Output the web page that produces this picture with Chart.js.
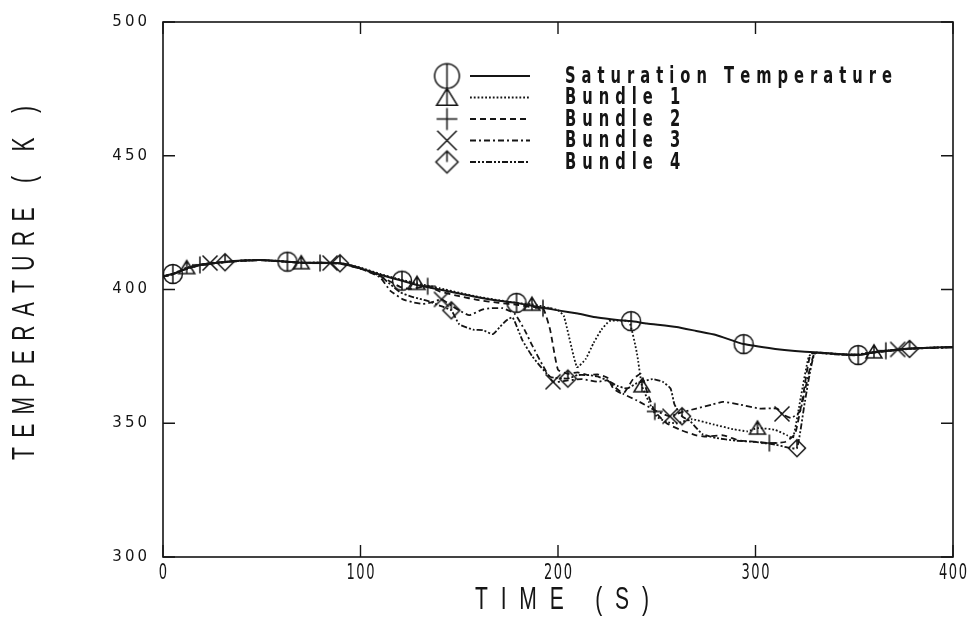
<!DOCTYPE html>
<html>
<head>
<meta charset="utf-8">
<script src="https://cdn.jsdelivr.net/npm/chart.js@4.4.1/dist/chart.umd.min.js"></script>
<style>
  html, body { margin: 0; padding: 0; background: #fff; }
  #c { display: block; }
</style>
</head>
<body>
<canvas id="c" width="973" height="622"></canvas>
<script>
'use strict';

// time (s) / temperature (K)
var SAT_T = [0,5,10,15,20,30,40,50,63,70,80,90,100,110,121,130,140,150,160,170,179,190,200,210,220,230,237,245,260,270,280,294,310,320,330,340,352,360,370,380,390,400];
var SAT_K = [405,405.8,407.3,408.6,409.4,410.2,410.8,411,410.4,410,410,409.8,408,405.5,403.3,401.5,400,398.5,397,395.8,395,393.5,392.2,391,389.5,388.6,388.2,387.3,386,384.5,383,379.6,377.8,377,376.5,376,375.5,376.6,377.4,378,378.3,378.5];
var SAT_MARKS = [5,63,121,179,237,294,352];

var B1_T = [0,5,12,20,30,40,50,60,70,80,90,100,110,120,128.6,135,140,150,160,170,180,186.8,195,200,203,209.6,214,218,222,226,230,236,240,242.5,246,250,255,260,268,278.5,288.6,296,301,310,316,319,323,327,330,340,350,360,370,380,390,400];
var B1_K = [404.8,405.9,408.2,409.4,410.2,410.8,411,410.6,410,410,409.8,408.2,405.8,403.8,402.3,401.3,400.5,398.8,397.2,396,394.9,394.5,393.2,392.3,390,371,374,380,385,388.2,388.4,388,376,364,358,352.5,350.5,350,351.5,349.6,347.8,347,348.2,347.5,345.5,344.5,360,375,376.4,376,375.6,376.7,377.4,378,378.3,378.5];
var B1_MARKS = [12,70,128.6,186.8,242.5,301,360];

var B2_T = [0,5,10,18.7,30,40,50,60,70,79.5,90,100,110,115,120,125,134,140,150,160,170,180,186,192.4,196,200,205,210,215,220,225,228,233,238,242,245,249,255,262,270,275,283.5,292,302,307,315,320,324,328,335,345,355,366,375,385,400];
var B2_K = [404.8,405.7,407.2,409.2,410.1,410.7,410.9,410.5,410,409.9,409.6,407.8,405,403,401,400.2,401.2,399.3,397.5,396,395,394.2,393.5,393,385,370,368.5,369,368,368.3,367,363,361,366.5,368.5,362,354.4,350,347.5,345.5,345,345.5,343.5,343,342.6,343,346,360,376,376.1,375.7,375.8,377.1,377.7,378.1,378.4];
var B2_MARKS = [18.7,79.5,134,192.4,249,307,366];

var B3_T = [0,5,10,15,23.8,30,40,50,60,70,84.6,90,100,110,115,121.5,126.6,131.6,136,141,146,150,155,162,166,172,178,183,187,192,197.5,205,212,220,225,228,233,240,250,256.7,262,270,278,283.5,292,302,311,313.4,318,322.5,326,330,340,350,360,372,385,400];
var B3_K = [404.8,405.7,407.2,408.5,409.9,410.2,410.8,411,410.5,410,409.9,409.7,407.8,404.5,399.6,396.3,395.2,394.6,395.2,396.3,394,392.2,390.4,392.6,393,393,391,385,379,372,365.5,366,366.5,365.5,366,364,361,358.5,354.5,352.6,354,355.5,357,358,357,355.5,355.5,353.5,352,354.4,365.5,376.2,375.9,375.5,376.5,377.6,378.1,378.4];
var B3_MARKS = [23.8,84.6,141,197.5,256.7,313.4,372];

var B4_T = [0,5,10,20,31.4,40,50,60,70,80,89.6,100,110,115,120,125,130,135,140,146,150,157,162,167,170.6,174,177,182,187,196,205,210,215,220,225,230,235,240,248,253,257,259,262.8,267,273,280,290,300,310,316,321,325,330,340,350,360,370,378,390,400];
var B4_K = [404.8,405.7,407.2,409.3,410.2,410.8,411,410.5,410,410,409.8,407.8,405,402,399,397.5,396.5,395.5,394,392.2,387,385,384.8,383.3,386,388.5,389.6,381,375,367.4,366.7,368,368,367.5,366,364,363,365,366.5,365.5,363,357,352.6,350.7,346,344.5,343.5,343,342,341,340.7,358,376,375.8,375.4,376.4,377.2,377.8,378.2,378.4];
var B4_MARKS = [31.4,89.6,146,205,262.8,321,378];

var X_TICKS = [0, 100, 200, 300, 400];
var Y_TICKS = [300, 350, 400, 450, 500];

var INK = '#151515';

// marker glyphs, drawn once on small canvases
function makeMarker(kind, k) {
	var s = Math.round(24 * k), m = s / 2;
	var c = document.createElement('canvas');
	c.width = c.height = s;
	var g = c.getContext('2d');
	g.strokeStyle = INK;
	g.lineWidth = 1.5;
	g.beginPath();
	if (kind === 'circle') {
		g.arc(m, m, 9.5 * k, 0, Math.PI * 2);
		g.moveTo(m, m - 9.5 * k); g.lineTo(m, m + 9.5 * k);
	} else if (kind === 'triangle') {
		g.moveTo(m, m - 7 * k); g.lineTo(m + 8 * k, m + 6 * k); g.lineTo(m - 8 * k, m + 6 * k); g.closePath();
		g.moveTo(m, m - 7 * k); g.lineTo(m, m + 6 * k);
	} else if (kind === 'plus') {
		g.moveTo(m - 8 * k, m); g.lineTo(m + 8 * k, m);
		g.moveTo(m, m - 8.5 * k); g.lineTo(m, m + 8.5 * k);
	} else if (kind === 'cross') {
		g.moveTo(m - 7.5 * k, m - 7.5 * k); g.lineTo(m + 7.5 * k, m + 7.5 * k);
		g.moveTo(m + 7.5 * k, m - 7.5 * k); g.lineTo(m - 7.5 * k, m + 7.5 * k);
	} else {
		g.moveTo(m, m - 8.5 * k); g.lineTo(m + 8.5 * k, m); g.lineTo(m, m + 8.5 * k); g.lineTo(m - 8.5 * k, m); g.closePath();
		g.moveTo(m, m - 8.5 * k); g.lineTo(m, m);
	}
	g.stroke();
	return c;
}

var SERIES = [
	{ label: 'Saturation Temperature', t: SAT_T, k: SAT_K, marks: SAT_MARKS, mark: 'circle',   dash: [],                 width: 2 },
	{ label: 'Bundle 1',               t: B1_T,  k: B1_K,  marks: B1_MARKS,  mark: 'triangle', dash: [1.8, 2],           width: 1.8 },
	{ label: 'Bundle 2',               t: B2_T,  k: B2_K,  marks: B2_MARKS,  mark: 'plus',     dash: [6, 4],             width: 1.8 },
	{ label: 'Bundle 3',               t: B3_T,  k: B3_K,  marks: B3_MARKS,  mark: 'cross',    dash: [6, 3, 2, 3],       width: 1.8 },
	{ label: 'Bundle 4',               t: B4_T,  k: B4_K,  marks: B4_MARKS,  mark: 'diamond',  dash: [6, 2, 2, 2, 2, 2], width: 1.8 }
];

var datasets = SERIES.map(function (s) {
	var img = makeMarker(s.mark, 1);
	s.legendImg = makeMarker(s.mark, 1.3);
	return {
		label: s.label,
		data: s.t.map(function (t, i) { return { x: t, y: s.k[i] }; }),
		showLine: true,
		borderColor: INK,
		borderWidth: s.width,
		borderDash: s.dash,
		tension: 0.15,
		pointStyle: img,
		pointRadius: function (ctx) {
			var p = ctx.raw;
			return p && s.marks.indexOf(p.x) >= 0 ? 5 : 0;
		},
		pointHoverRadius: 0
	};
});

function glyphWidths(ctx, text, font, sx) {
	ctx.save();
	ctx.font = font;
	ctx.letterSpacing = '0px';
	var ws = text.split('').map(function (ch) { return ctx.measureText(ch).width * sx; });
	ctx.restore();
	return ws;
}

function gapFor(ctx, text, font, sx, width) {
	var sum = glyphWidths(ctx, text, font, sx).reduce(function (a, b) { return a + b; }, 0);
	return (width - sum) / (text.length - 1);
}

// squeezed text, one glyph at a time with a fixed gap
function squeezed(ctx, text, x, y, font, sx, gap, align) {
	var ws = glyphWidths(ctx, text, font, sx);
	var total = ws.reduce(function (a, b) { return a + b; }, 0) + gap * (text.length - 1);
	var cx = align === 'center' ? x - total / 2 : (align === 'right' ? x - total : x);
	ctx.save();
	ctx.font = font;
	ctx.letterSpacing = '0px';
	ctx.textAlign = 'left';
	ctx.textBaseline = 'middle';
	text.split('').forEach(function (ch, i) {
		ctx.save();
		ctx.translate(cx, y);
		ctx.scale(sx, 1);
		ctx.fillText(ch, 0, 0);
		ctx.restore();
		cx += ws[i] + gap;
	});
	ctx.restore();
}

var paperPlugin = {
	id: 'paper',
	beforeDraw: function (chart) {
		var ctx = chart.ctx;
		ctx.save();
		ctx.fillStyle = '#fff';
		ctx.fillRect(0, 0, chart.width, chart.height);
		ctx.restore();
		ctx.letterSpacing = '3px';
	},
	beforeDatasetsDraw: function (chart) {
		var ctx = chart.ctx, a = chart.chartArea;
		var xs = chart.scales.x, ys = chart.scales.y;
		ctx.letterSpacing = '0px';
		ctx.save();
		ctx.strokeStyle = INK;
		ctx.lineWidth = 1.6;
		ctx.strokeRect(a.left, a.top, a.right - a.left, a.bottom - a.top);
		ctx.lineWidth = 1.4;
		ctx.beginPath();
		xs.ticks.forEach(function (t) {
			var px = xs.getPixelForValue(t.value);
			ctx.moveTo(px, a.bottom); ctx.lineTo(px, a.bottom - 12);
			ctx.moveTo(px, a.top); ctx.lineTo(px, a.top + 12);
		});
		ys.ticks.forEach(function (t) {
			var py = ys.getPixelForValue(t.value);
			ctx.moveTo(a.left, py); ctx.lineTo(a.left + 12, py);
			ctx.moveTo(a.right, py); ctx.lineTo(a.right - 12, py);
		});
		ctx.stroke();
		ctx.fillStyle = INK;
		// x tick labels, narrow and tall like the plotter font
		xs.ticks.forEach(function (t) {
			squeezed(ctx, String(t.value), xs.getPixelForValue(t.value), a.bottom + 17,
				'21px "DejaVu Sans", sans-serif', 0.62, 1.5, 'center');
		});
		ctx.restore();
	},
	afterDraw: function (chart) {
		var ctx = chart.ctx, a = chart.chartArea;
		ctx.save();
		ctx.fillStyle = INK;
		ctx.strokeStyle = INK;

		// legend
		var lf = 'bold 23px "DejaVu Sans", sans-serif';
		var lsx = 0.64;
		var lgap = gapFor(ctx, SERIES[0].label, lf, lsx, 327);
		SERIES.forEach(function (s, i) {
			var y = 76 + i * 21.5;
			ctx.drawImage(s.legendImg, 447 - s.legendImg.width / 2, y - s.legendImg.height / 2);
			ctx.save();
			ctx.lineWidth = s.width;
			ctx.setLineDash(s.dash);
			ctx.beginPath();
			ctx.moveTo(470, y); ctx.lineTo(530, y);
			ctx.stroke();
			ctx.restore();
			squeezed(ctx, s.label, 565, y + 1, lf, lsx, lgap, 'left');
		});

		// axis titles
		var tf = '31px "Liberation Sans", "DejaVu Sans", sans-serif';
		var ytxt = 'TEMPERATURE ( K )', xtxt = 'TIME (S)';
		ctx.save();
		ctx.translate(25, 283);
		ctx.rotate(-Math.PI / 2);
		squeezed(ctx, ytxt, 0, 0, tf, 0.68, gapFor(ctx, ytxt, tf, 0.68, 354), 'center');
		ctx.restore();

		squeezed(ctx, xtxt, (a.left + a.right) / 2 + 4, 600, tf, 0.68, gapFor(ctx, xtxt, tf, 0.68, 174), 'center');
		ctx.restore();
	}
};

new Chart(document.getElementById('c'), {
	type: 'scatter',
	data: { datasets: datasets },
	plugins: [paperPlugin],
	options: {
		responsive: false,
		animation: false,
		devicePixelRatio: 1,
		layout: { padding: { top: 17, right: 20, left: 0, bottom: 0 } },
		plugins: { legend: { display: false }, tooltip: { enabled: false } },
		scales: {
			x: {
				type: 'linear', min: 0, max: 400,
				afterBuildTicks: function (s) { s.ticks = X_TICKS.map(function (v) { return { value: v }; }); },
				afterFit: function (s) { s.height = 65; },
				grid: { display: false, drawTicks: false },
				border: { display: false },
				ticks: { display: false }
			},
			y: {
				type: 'linear', min: 300, max: 500,
				afterBuildTicks: function (s) { s.ticks = Y_TICKS.map(function (v) { return { value: v }; }); },
				afterFit: function (s) { s.width = 163; },
				grid: { display: false, drawTicks: false },
				border: { display: false },
				ticks: {
					padding: 13, color: INK,
					font: { family: '"DejaVu Sans", sans-serif', size: 15 }
				}
			}
		}
	}
});
</script>
</body>
</html>
